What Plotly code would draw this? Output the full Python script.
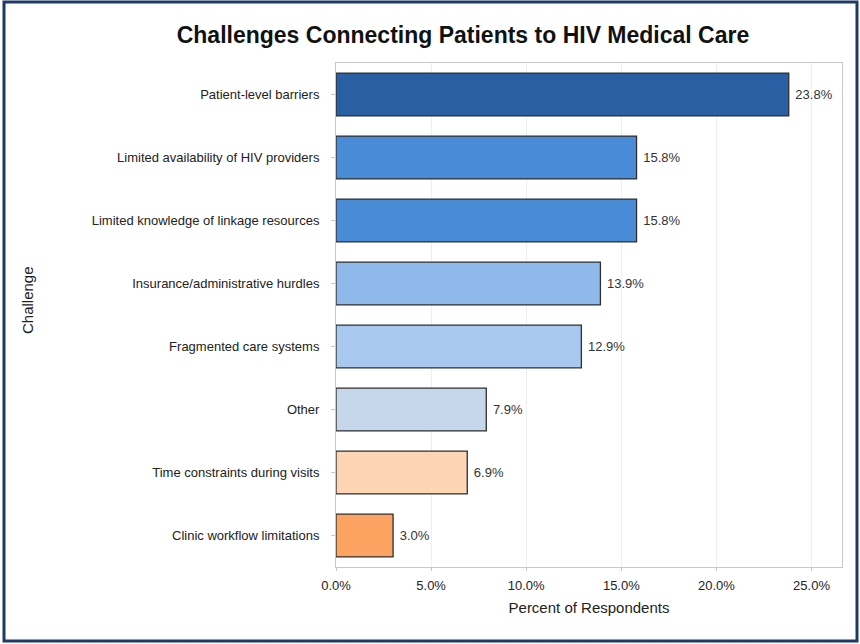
import plotly.graph_objects as go

categories = [
    "Patient-level barriers",
    "Limited availability of HIV providers",
    "Limited knowledge of linkage resources",
    "Insurance/administrative hurdles",
    "Fragmented care systems",
    "Other",
    "Time constraints during visits",
    "Clinic workflow limitations",
]
values = [23.8, 15.8, 15.8, 13.9, 12.9, 7.9, 6.9, 3.0]
bar_colors = ["#2b5fa3", "#4a8bd8", "#4a8bd8", "#8fb9ea", "#a9c8ef",
              "#c7d7eb", "#fdd4b4", "#fda362"]
tick_vals = [0, 5, 10, 15, 20, 25]
tick_text = ["0.0%", "5.0%", "10.0%", "15.0%", "20.0%", "25.0%"]

W, H = 860, 644
ML, MR, MT, MB = 336, 18, 63, 77
pw, ph = W - ML - MR, H - MT - MB
FONT = "Liberation Sans, Arial, sans-serif"

fig = go.Figure()
fig.add_trace(go.Bar(
    y=categories, x=values, orientation="h",
    marker=dict(color=bar_colors, line=dict(color="#2f2f2f", width=1.3)),
    text=[f" {v:.1f}%" for v in values], textposition="outside",
    textfont=dict(family=FONT, size=13, color="#333333"),
    cliponaxis=False, hoverinfo="skip",
))

# outer frame (pixel positions converted to paper coords)
def px_x(p):
    return (p - ML) / pw

def px_y(p):  # p measured from top of image
    return (H - MB - p) / ph

fig.add_shape(type="rect", xref="paper", yref="paper",
              x0=px_x(4), x1=px_x(W - 3), y0=px_y(H - 3), y1=px_y(2),
              line=dict(color="#1e3a66", width=3), layer="below")

fig.add_annotation(text="Challenge", xref="paper", yref="paper",
                   x=px_x(27), y=px_y(300), textangle=-90, showarrow=False,
                   xanchor="center", yanchor="middle",
                   font=dict(family=FONT, size=15, color="#222222"))

fig.update_layout(
    width=W, height=H,
    margin=dict(l=ML, r=MR, t=MT, b=MB),
    paper_bgcolor="white", plot_bgcolor="white",
    bargap=0.32,
    showlegend=False,
    title=dict(text="<b>Challenges Connecting Patients to HIV Medical Care</b>",
               x=(173 + 753) / 2 / W, xanchor="center", y=1 - 35 / H, yanchor="middle",
               font=dict(family=FONT, size=23, color="#111111")),
    font=dict(family=FONT, size=13, color="#222222"),
)
fig.update_xaxes(
    range=[0, 26.6], tickvals=tick_vals, ticktext=tick_text,
    showgrid=True, gridcolor="#efefef", gridwidth=1,
    zeroline=False, showline=True, linecolor="#c8c8c8", mirror=True,
    ticks="outside", ticklen=3, tickcolor="#c8c8c8", ticklabelstandoff=3,
    tickfont=dict(size=13, color="#222222"),
    title=dict(text="Percent of Respondents", font=dict(size=15, color="#222222"), standoff=10),
)
fig.update_yaxes(
    categoryorder="array", categoryarray=categories, autorange="reversed",
    showline=True, linecolor="#c8c8c8", mirror=True,
    ticks="outside", ticklen=4, tickcolor="#c8c8c8", ticklabelstandoff=9,
    tickfont=dict(size=13, color="#222222"),
)
fig.write_html("out.html", config={"displayModeBar": False},
               post_script="document.body.style.margin='0';document.body.style.overflow='hidden';")
